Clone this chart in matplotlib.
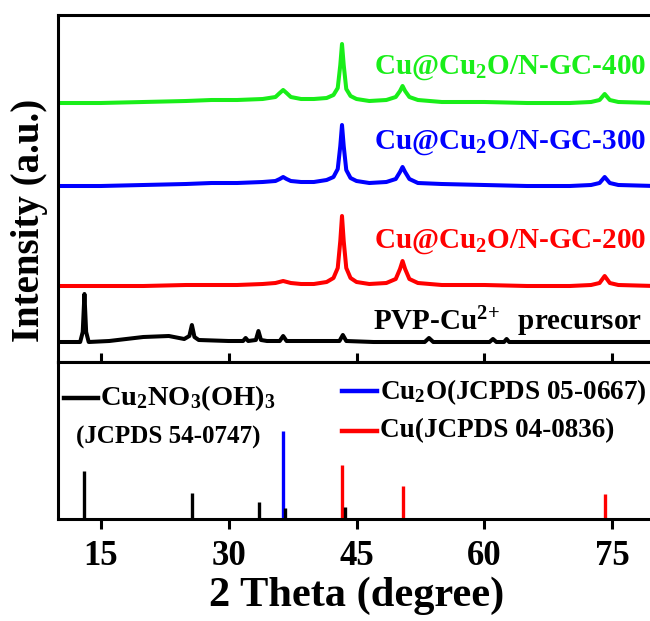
import matplotlib
matplotlib.use("Agg")
import matplotlib.pyplot as plt
import numpy as np

plt.rcParams['font.family'] = ['Liberation Serif', 'DejaVu Serif']
plt.rcParams['font.weight'] = 'bold'
plt.rcParams['mathtext.fontset'] = 'custom'
plt.rcParams['mathtext.rm'] = 'Liberation Serif:bold'
plt.rcParams['mathtext.bf'] = 'Liberation Serif:bold'
plt.rcParams['mathtext.it'] = 'Liberation Serif:bold'

# ---------------- data ----------------
# GC-400 (green)
g_x = [10, 15, 20, 25, 28, 31, 34, 35.5, 36.0, 36.4, 36.8, 37.3, 38.5, 40, 41.5, 42.3, 42.8, 43.1, 43.3,
       43.5, 43.8, 44.3, 45, 46.5, 48.5, 49.6, 50.1, 50.4, 50.7, 51.2, 52.2, 55, 60, 65, 70, 72.5, 73.5,
       74.1, 74.7, 75.7, 80]
g_y = [0, 0, 1, 2, 3, 3, 4, 6, 10, 13, 10, 6, 4, 4, 5, 8, 15, 38, 59,
       38, 14, 7, 4, 2, 3, 6, 12, 17, 12, 6, 3, 1, 1, 0, 0, 1, 3,
       9, 3, 1, 0]
# GC-300 (blue)
b_x = [10, 15, 20, 25, 28, 31, 34, 35.5, 36.0, 36.4, 36.8, 37.3, 38.5, 40, 41.5, 42.3, 42.8, 43.1, 43.3,
       43.5, 43.8, 44.3, 45, 46.5, 48.5, 49.6, 50.1, 50.4, 50.7, 51.2, 52.2, 55, 60, 65, 70, 72.5, 73.5,
       74.1, 74.7, 75.7, 80]
b_y = [0, 0, 1, 2, 3, 3, 4, 5, 7, 9, 7, 5, 4, 4, 6, 9, 17, 40, 61,
       40, 16, 8, 5, 3, 4, 7, 14, 19, 14, 7, 3, 2, 1, 0, 0, 1, 3,
       9, 3, 1, 0]
# GC-200 (red)
r_x = [10, 15, 20, 25, 28, 31, 34, 35.5, 36.4, 37.3, 38.5, 40, 41.5, 42.3, 42.8, 43.1, 43.3,
       43.5, 43.8, 44.3, 45, 46.5, 48.5, 49.6, 50.1, 50.4, 50.7, 51.2, 52.2, 55, 60, 65, 70, 72.5, 73.5,
       74.1, 74.7, 75.7, 80]
r_y = [0, 0, 0, 1, 1, 1, 2, 3, 5, 3, 2, 2, 4, 8, 18, 45, 70,
       45, 18, 8, 4, 2, 3, 7, 17, 25, 17, 7, 3, 1, 1, 0, 0, 1, 3,
       10, 3, 1, 0]
# PVP-Cu2+ precursor (black)
k_x = [10, 12.6, 12.9, 13.1, 13.3, 13.6, 16, 18, 20, 23, 24.8, 25.4, 25.7, 26.0, 26.5, 30, 31.7, 32.0,
       32.3, 33.2, 33.5, 33.8, 34.5, 36.0, 36.4, 36.8, 40, 43.0, 43.4, 43.8, 47, 53.0, 53.5, 54.0,
       58, 60.6, 61.0, 61.4, 62.3, 62.6, 62.9, 66, 80]
k_y = [0, 0, 10, 48, 10, 0, 1, 3, 5, 6, 3, 6, 17, 5, 2, 1, 1, 4,
       1, 2, 11, 2, 1, 1, 6, 1, 1, 1, 7, 1, 0, 0, 4, 0,
       0, 0, 3, 0, 0, 3, 0, 0, 0]

curve_offsets = [259, 176, 76, 20]
curve_colors = ['#19EE19', '#0000FF', '#FF0000', '#000000']
curve_labels = [r'Cu@Cu$_2$O/N-GC-400', r'Cu@Cu$_2$O/N-GC-300',
                r'Cu@Cu$_2$O/N-GC-200', r'PVP-Cu$^{2\!+}$  precursor']

# reference patterns
ref_cu2no3_x = [13.1, 25.7, 33.6, 36.6, 43.6]
ref_cu2no3_y = [48, 26, 17, 11, 12]
ref_cu2o_x = [36.4]
ref_cu2o_y = [88]
ref_cu_x = [43.3, 50.4, 74.1]
ref_cu_y = [54, 33, 25]

xticks = [15, 30, 45, 60, 75]

# ---------------- figure ----------------
W, H = 650, 621
fig = plt.figure(figsize=(W / 100, H / 100), dpi=100)

def box(l, r, t, b):
    return [l / W, (H - b) / H, (r - l) / W, (b - t) / H]

ax = fig.add_axes(box(58, 655, 15, 362))
ax2 = fig.add_axes(box(58, 655, 362, 519))

series = [(g_x, g_y), (b_x, b_y), (r_x, r_y), (k_x, k_y)]
for (xs, ys), off, col in zip(series, curve_offsets, curve_colors):
    ax.plot(xs, np.array(ys) + off, color=col, lw=2.9, solid_joinstyle='round')

ax.set_xlim(10, 80)
ax.set_ylim(0, 347)
ax.set_yticks([])
ax.set_xticks(xticks)
ax.set_xticklabels([])
ax.tick_params(axis='x', direction='in', length=6.5, width=2.2, top=False)

label_pos = [(646, 68, curve_colors[0]), (646, 143, curve_colors[1]),
             (646, 242, curve_colors[2]), (642, 322, 'black')]
for txt, (px, py, col) in zip(curve_labels, label_pos):
    fig.text(px / W, 1 - py / H, txt, color=col, fontsize=21, fontweight='bold',
             ha='right', va='center')

# bottom panel sticks
ax2.vlines(ref_cu2o_x, 0, ref_cu2o_y, color='#0000FF', lw=2.4)
ax2.vlines(ref_cu_x, 0, ref_cu_y, color='#FF0000', lw=2.4)
ax2.vlines(ref_cu2no3_x, 0, ref_cu2no3_y, color='black', lw=2.4)
ax2.set_xlim(10, 80)
ax2.set_ylim(0, 157)
ax2.set_yticks([])
ax2.set_xticks(xticks)
ax2.tick_params(axis='x', direction='out', length=7, width=2.2, pad=8, labelsize=25)
for lab in ax2.get_xticklabels():
    lab.set_fontweight('bold')
ax2.set_xlabel('2 Theta (degree)', fontsize=30.5, fontweight='bold', labelpad=3)

for a in (ax, ax2):
    for s in a.spines.values():
        s.set_linewidth(2.2)

# legend-like markers
def hline(x0, x1, y, col):
    fig.add_artist(plt.Line2D([x0 / W, x1 / W], [1 - y / H, 1 - y / H], color=col, lw=3.2))

hline(64, 98, 398, 'black')
hline(342, 377, 391, '#0000FF')
hline(342, 377, 431, '#FF0000')
fig.text(100 / W, 1 - 398 / H, r'Cu$_2$NO$_3$(OH)$_3$', fontsize=20.5, fontweight='bold', ha='left', va='center')
fig.text(76 / W, 1 - 437 / H, '(JCPDS 54-0747)', fontsize=18, fontweight='bold', ha='left', va='center')
fig.text(380 / W, 1 - 392 / H, r'Cu$_2$O(JCPDS 05-0667)', fontsize=19.5, fontweight='bold', ha='left', va='center')
fig.text(380 / W, 1 - 431 / H, 'Cu(JCPDS 04-0836)', fontsize=19.5, fontweight='bold', ha='left', va='center')

fig.text(30 / W, 1 - 220 / H, 'Intensity (a.u.)', fontsize=28, fontweight='bold', rotation=90,
         ha='center', va='center')

fig.savefig('out.png', dpi=100)
